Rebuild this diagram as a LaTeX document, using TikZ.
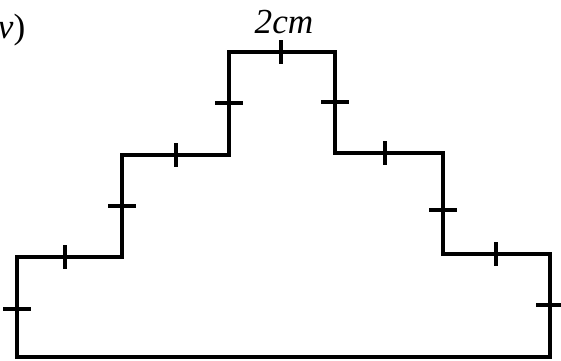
\documentclass[tikz,border=0pt]{standalone}
\usepackage{fontspec}
\setmainfont{Liberation Serif}
\usetikzlibrary{positioning}

\begin{document}
\begin{tikzpicture}[x=0.01cm,y=-0.01cm,line width=1.1pt]
      \useasboundingbox (0,0) rectangle (561,360);
      % outline of the stepped shape
      \draw (17,357) -- (17,257) -- (122,257) -- (122,155) -- (229,155) -- (229,52)
        -- (335,52) -- (335,153) -- (443,153) -- (443,254) -- (550,254) -- (550,357) -- cycle;

      % equal-length marks
      \foreach \x/\y in {65/257,176/155,281/52,385/153,496/254}
        \draw (\x,\y-12) -- (\x,\y+12);
      \foreach \x/\y in {17/309,122/206,229/103,335/102,443/210,550/305}
        \draw (\x-14,\y) -- (\x+14,\y);

      \node (lbl) at (284,22) {\itshape 2cm};
      \node[anchor=west, inner sep=0pt] (part) at (-4,30) {\itshape v\upshape)};
    \end{tikzpicture}
\end{document}
